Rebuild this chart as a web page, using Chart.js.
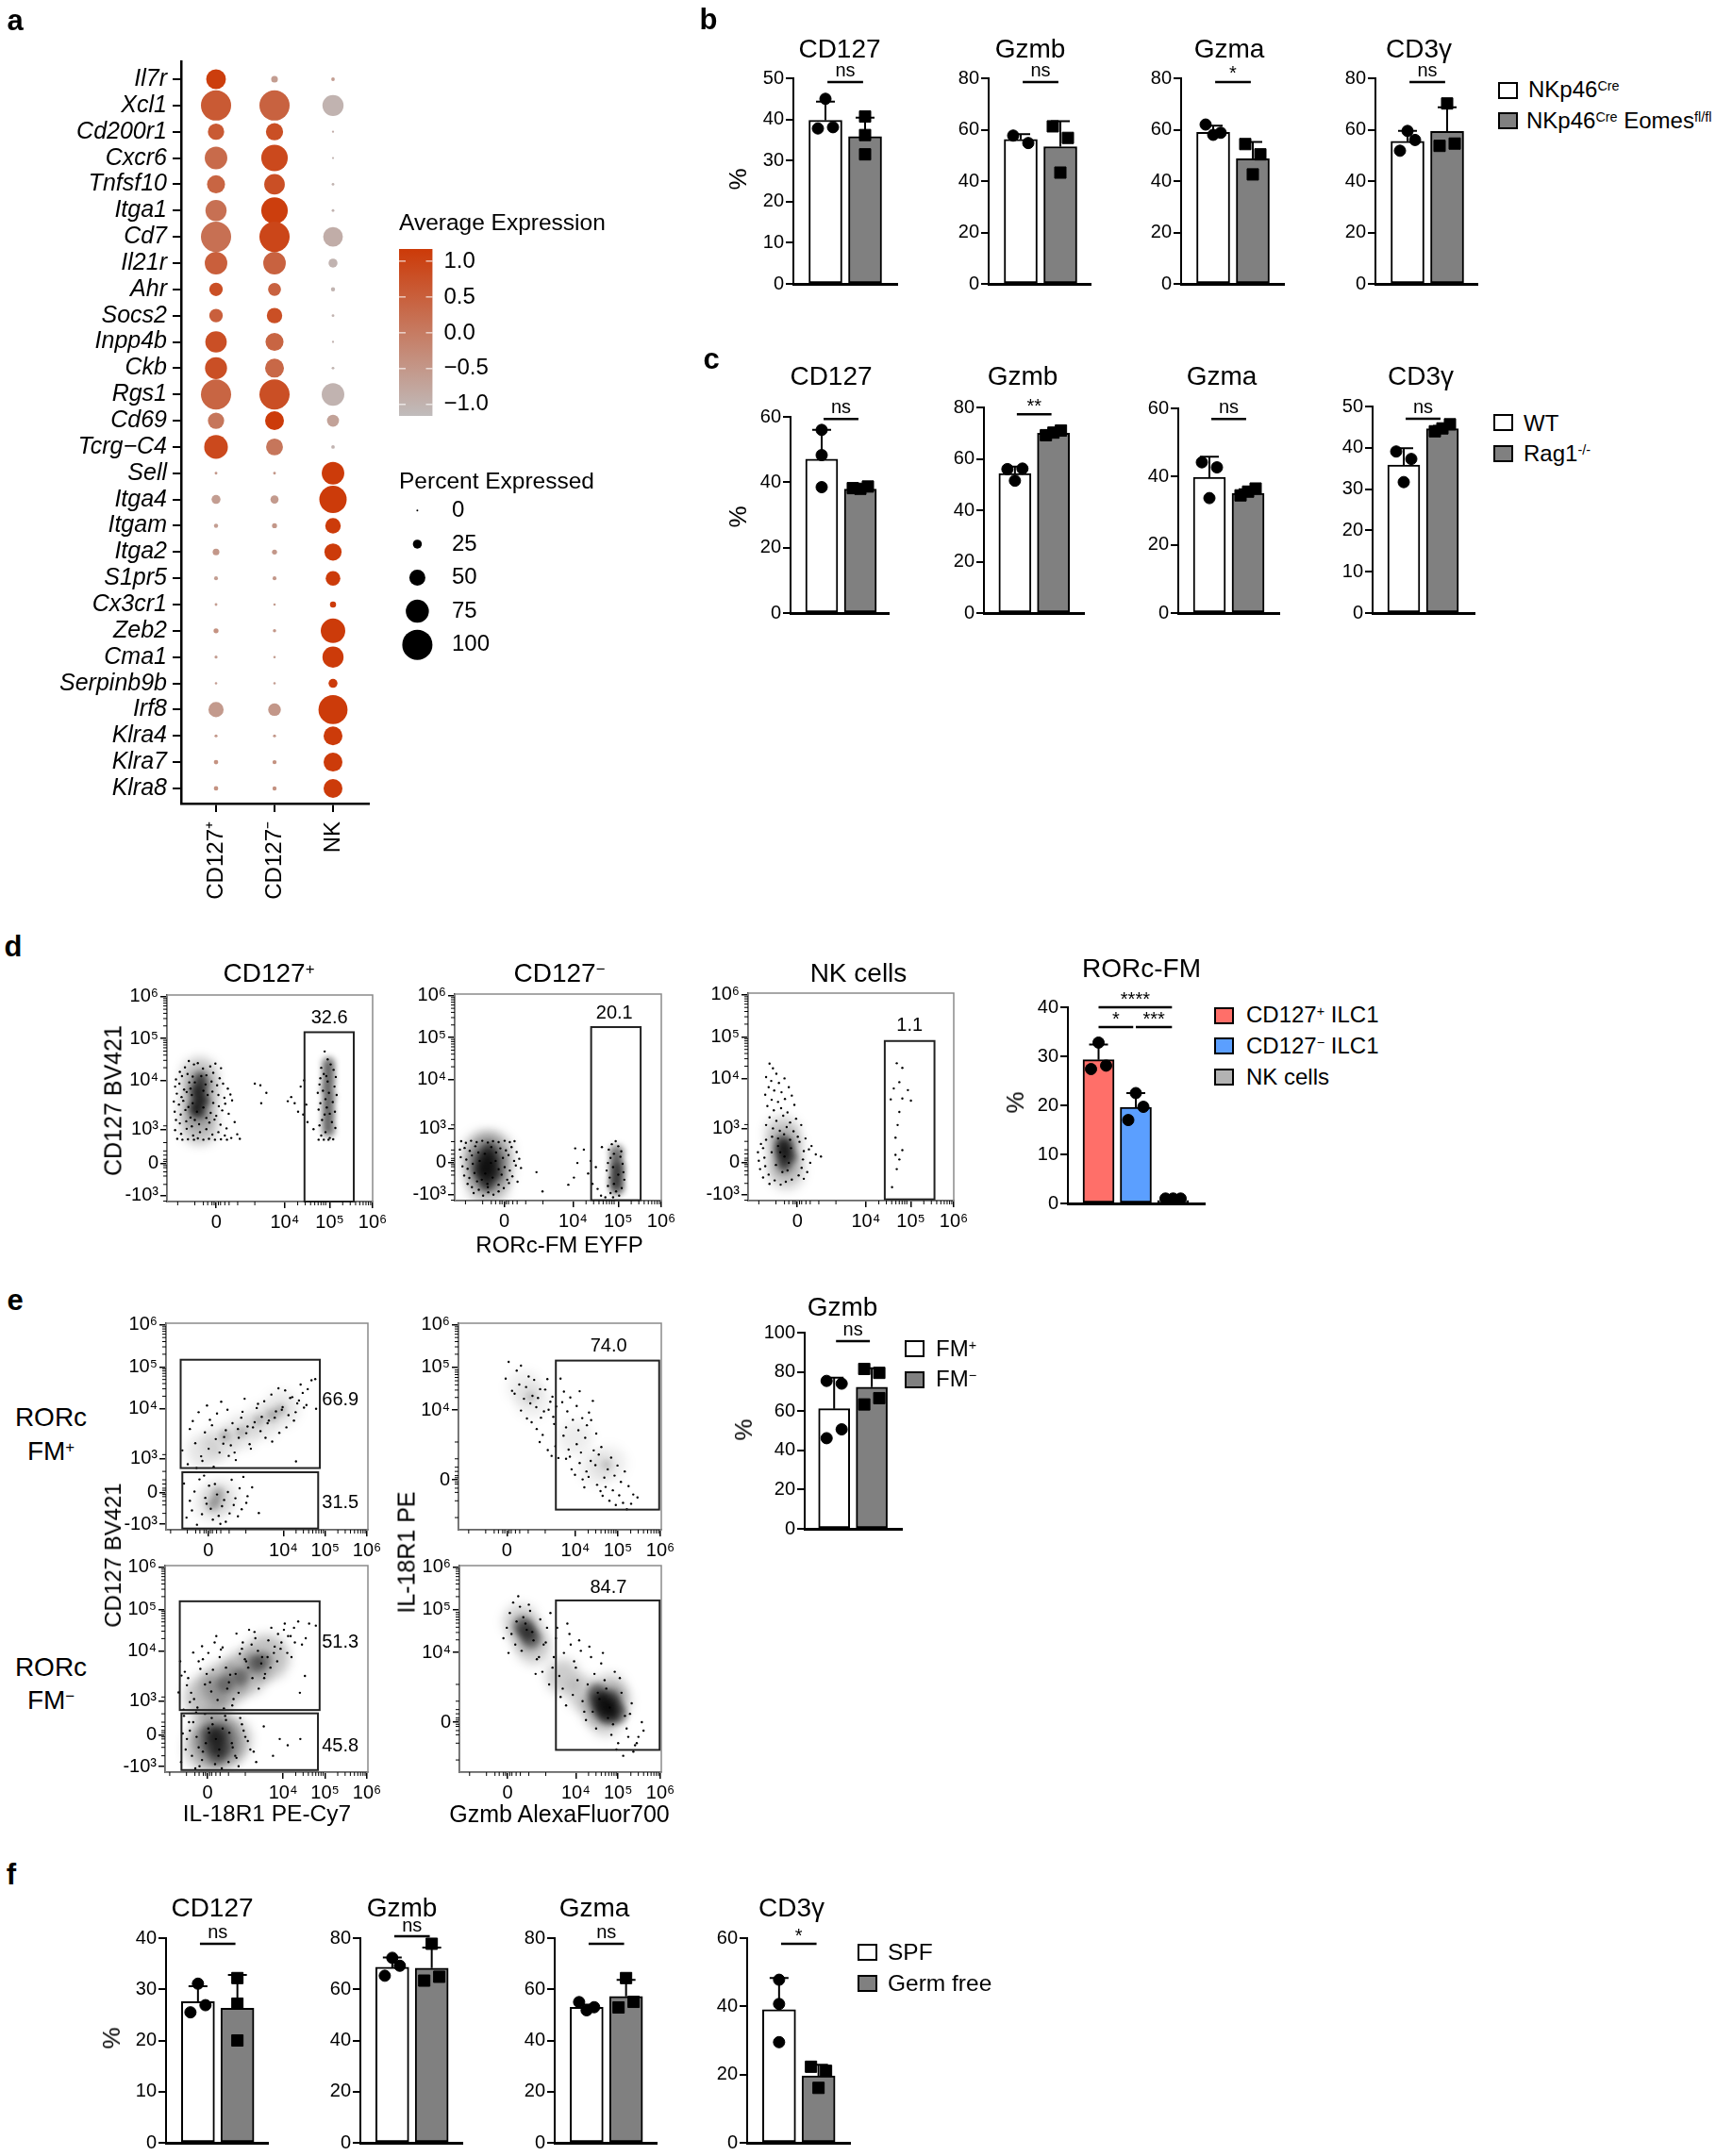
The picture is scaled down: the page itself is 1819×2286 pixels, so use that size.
<!DOCTYPE html>
<html>
<head>
<meta charset="utf-8">
<title>Figure</title>
<script src="https://cdn.jsdelivr.net/npm/chart.js@4"></script>
<style>
  html, body { margin: 0; background: #fff; }
  #page { position: relative; width: 1819px; height: 2286px; overflow: hidden; font-family: "Liberation Sans", Arial, sans-serif; color: #000; }
  canvas { position: absolute; }
  .lab { position: absolute; white-space: nowrap; line-height: 1; }
  .lab sup { font-size: 60%; vertical-align: baseline; position: relative; top: -0.5em; line-height: 0; }
  .sw { position: absolute; box-sizing: border-box; border: 2px solid #000; }
</style>
</head>
<body>
<div id="page"></div>
<script>
// panel a
const genes = ['Il7r', 'Xcl1', 'Cd200r1', 'Cxcr6', 'Tnfsf10', 'Itga1', 'Cd7', 'Il21r', 'Ahr', 'Socs2', 'Inpp4b', 'Ckb', 'Rgs1', 'Cd69', 'Tcrg\u2212C4', 'Sell', 'Itga4', 'Itgam', 'Itga2', 'S1pr5', 'Cx3cr1', 'Zeb2', 'Cma1', 'Serpinb9b', 'Irf8', 'Klra4', 'Klra7', 'Klra8'];
const dotGroups = ['CD127\u207A', 'CD127\u207B', 'NK'];
const pctCD127p = [63, 100, 51, 73, 57, 68, 100, 73, 41, 41, 69, 71, 100, 51, 77, 3, 25, 8, 17, 7, 3, 11, 4, 2, 47, 4, 9, 9];
const pctCD127m = [17, 100, 54, 87, 66, 87, 100, 73, 39, 48, 57, 60, 100, 60, 53, 3, 22, 11, 11, 7, 2, 5, 2, 2, 38, 4, 8, 8];
const pctNK = [6, 68, 1, 1, 3, 3, 63, 25, 8, 3, 1, 3, 73, 36, 6, 73, 90, 48, 54, 45, 15, 80, 68, 25, 96, 60, 60, 60];
const avgCD127p = [1.1, 0.6, 0.6, 0.3, 0.4, 0.2, 0.2, 0.5, 0.8, 0.5, 0.8, 0.8, 0.4, 0.1, 0.9, -0.5, -0.6, -0.6, -0.5, -0.6, -0.6, -0.4, -0.6, -0.6, -0.55, -0.5, -0.4, -0.4];
const avgCD127m = [-0.6, 0.45, 0.8, 0.9, 0.8, 1.1, 0.95, 0.45, 0.45, 0.8, 0.4, 0.35, 0.8, 1.15, 0.1, -0.5, -0.55, -0.5, -0.5, -0.5, -0.6, -0.5, -0.6, -0.6, -0.5, -0.5, -0.4, -0.4];
const avgNK = [-0.6, -1, -0.9, -1, -1, -1, -0.9, -1, -1, -1, -1, -1, -1, -0.7, -1, 1.15, 1.15, 1.15, 1.15, 1.15, 1.15, 1.15, 1.15, 1.15, 1.15, 1.15, 1.15, 1.15];
const expTicks = [1, 0.5, 0, -0.5, -1];
const expLabels = ['1.0', '0.5', '0.0', '\u22120.5', '\u22121.0'];
const pctLegend = [0, 25, 50, 75, 100];

// panel b
const bMax = [50, 80, 80, 80];
const bStep = [10, 20, 20, 20];
const bMeans = [[39.8, 35.8], [56.2, 53.4], [59, 48.7], [55.5, 59.3]];
const bTops = [[44.3, 40.4], [58.3, 63.3], [61.6, 55.2], [59.5, 68.7]];
const bPoints = [
  [[45, 37.8, 38.1], [40.7, 36.2, 31.5]],
  [[57.7, 54.8], [43.3, 61.3, 56.8]],
  [[58, 58.8, 62], [42.6, 54.4, 50.4]],
  [[59.5, 56, 51.8], [70.2, 53.7, 54.6]]
];
const bSig = ['ns', 'ns', '*', 'ns'];

// panel c
const cMax = [60, 80, 60, 50];
const cStep = [20, 20, 20, 10];
const cMeans = [[47.1, 37.9], [54.3, 70], [39.8, 35.1], [35.8, 44.6]];
const cTops = [[56, 39], [57, 71], [45.8, 36.3], [39.9, 45.3]];
const cPoints = [
  [[56, 48.3, 38.5], [38, 38.7, 38.2]],
  [[51.5, 56.2, 56], [70.2, 71, 69.2]],
  [[33.7, 44.2, 42.7], [35.6, 36.5, 34.5]],
  [[31.7, 39.1, 37.3], [44.7, 45.7, 44]]
];
const cSig = ['ns', '**', 'ns', 'ns'];

// panel d bars
const dMeans = [29.3, 19.6, 0.6];
const dTops = [32.4, 22.5, 1];
const dPoints = [[32.8, 27.4, 28.1], [22.5, 17, 19.7], [1, 1, 1]];

// panel e bars
const eMeans = [61.2, 72.2];
const eTops = [77, 81.9];
const ePoints = [[75.4, 74, 46.2, 50.7], [81.5, 79.5, 63.4, 66.6]];

// panel f
const fMax = [40, 80, 80, 60];
const fStep = [10, 20, 20, 20];
const fMeans = [[27.6, 26.3], [68.6, 68.3], [53, 57.2], [39, 19.6]];
const fTops = [[30.6, 32.8], [72.4, 76.3], [54, 63.7], [48.3, 22.9]];
const fPoints = [
  [[31.1, 25.5, 26.9], [32.2, 27.2, 20]],
  [[72.3, 65.3, 69.2], [77.8, 63.4, 64.9]],
  [[51.8, 53, 55], [64.4, 52.9, 55.1]],
  [[47.8, 40.7, 29.5], [22.3, 21.1, 16.1]]
];
const fSig = ['ns', 'ns', 'ns', '*'];

// flow plots, display units x100 as x,y pairs
const d1Cells = [150,420,162,431,171,446,183,438,192,441,204,428,221,433,233,440,246,429,141,402,155,410,168,415,180,409,212,412,228,418,243,405,139,385,149,392,160,378,172,395,224,397,237,388,251,392,262,380,143,368,154,360,166,372,226,373,240,365,254,358,268,366,136,349,148,342,158,351,170,336,228,346,241,338,256,344,272,352,138,325,152,318,163,329,175,311,222,322,235,315,249,328,264,320,141,305,150,297,165,302,178,290,219,299,231,306,245,294,259,285,278,300,139,281,153,272,166,284,181,268,197,276,212,283,226,270,240,276,255,268,270,262,284,271,290,260,144,260,156,258,169,259,183,258,192,261,205,258,218,260,232,258,246,259,260,258,175,380,185,395,200,410,210,390,215,365,180,345,190,325,205,335,212,310,195,295,185,305,178,365,205,375,488,469,495,450,502,438,480,430,509,425,486,415,478,405,514,408,495,397,476,390,511,385,484,375,472,370,516,365,490,355,478,345,507,348,474,330,512,325,488,318,482,305,505,300,476,292,513,286,490,276,480,268,500,262,474,258,486,258,497,258,508,259,493,335,500,320,498,370,492,410,325,392,338,388,352,370,340,345,402,350,410,360,418,345,426,325,438,318,432,385,440,400,445,342,448,300,462,283];
const d1Wide = [196,290,192,330,198,370,196,410];
const d1Core = [196,363,190,345,200,385,188,375,205,350,195,325,198,405,185,330,497,280,497,400,495,380,498,360,496,340,497,320,496,300,497,420,497,440];
const d2Cells = [135,252,146,248,158,253,171,250,184,253,197,249,209,252,222,250,236,253,248,250,259,252,132,232,143,236,155,229,168,240,226,235,239,230,252,238,264,226,134,214,147,208,160,218,232,212,245,219,258,205,270,210,138,192,150,186,162,198,236,190,248,182,262,194,274,188,142,170,154,164,166,176,229,172,242,160,254,168,266,155,150,150,160,142,172,156,222,148,234,140,246,152,164,128,176,136,186,122,198,130,210,124,222,132,178,205,190,222,205,238,215,205,222,185,183,160,196,150,208,165,191,175,204,200,175,225,216,225,197,142,494,252,485,245,500,240,478,232,507,228,490,222,482,212,505,215,476,200,510,198,488,190,473,182,512,178,500,172,480,165,514,160,490,150,476,145,508,140,495,132,482,128,502,122,488,118,470,118,400,235,405,200,397,165,384,148,420,232,436,205,430,175,440,150,452,138,460,122,448,190,462,238,324,132,310,178];
const d2Wide = [188,225,206,225,188,188,206,185,197,150];
const d2Core = [197,189,190,170,205,205,195,150,188,210,200,230,180,185,210,175,497,170,495,155,498,185,496,200,497,140,496,225];
const d3Cells = [170,436,178,425,186,412,162,404,174,395,192,390,205,401,168,380,181,372,198,368,215,380,160,362,175,350,190,345,206,352,222,360,165,335,180,325,197,330,212,320,228,338,170,308,186,300,202,312,218,296,232,305,162,290,178,282,194,276,210,285,226,275,244,290,176,262,190,258,204,268,218,255,236,262,150,245,162,255,240,250,254,258,268,240,143,225,155,235,250,228,262,232,278,220,290,215,145,205,158,212,248,208,265,200,148,185,160,192,245,188,258,178,155,165,168,172,238,170,250,162,170,150,182,158,196,148,208,155,222,160,175,225,190,240,205,215,215,200,185,195,200,178,212,182,220,235,195,225,467,437,480,426,473,392,493,373,460,377,453,351,480,353,500,348,473,321,469,290,464,260,480,230,464,219,473,208,467,185,456,142];
const d3Wide = [207,240,205,205,200,270,210,178];
const d3Core = [207,227,200,212,212,240,205,195,195,232,218,215,200,250];
const e1Cells = [158,301,176,352,171,268,189,318,183,371,203,287,192,259,212,344,197,392,221,305,206,276,229,361,238,328,217,408,247,296,224,374,256,317,233,262,262,349,241,389,269,288,251,417,278,366,258,333,286,278,266,398,291,352,274,313,299,379,283,296,307,424,314,358,293,331,322,305,302,393,331,368,311,342,339,412,319,316,348,381,327,356,357,331,336,402,365,372,345,347,373,322,354,418,382,394,362,366,390,343,371,434,398,404,379,379,407,356,388,449,416,426,396,398,425,372,404,444,433,413,412,385,441,458,421,428,449,403,429,392,458,447,437,420,467,468,446,438,476,471,455,409,430,275,478,400,162,222,176,181,168,141,187,203,181,158,199,232,193,124,213,188,205,149,222,217,216,174,231,136,210,241,241,196,226,162,249,126,236,221,258,183,245,145,267,202,253,168,276,231,262,131,285,187,271,151,295,211,281,171,304,238,291,144,314,192,300,161,325,213,311,176,341,152];
const e1Wide = [210,300,250,320,300,345,350,370,395,400,230,175,250,190];
const e1Core = [393,398,372,385,342,373,300,345,259,335,239,182,230,170,245,200];
const e2Cells = [236,472,251,443,243,512,262,491,268,458,257,436,279,424,272,503,290,477,284,452,299,431,294,413,308,404,303,469,317,447,312,426,326,394,319,379,334,471,329,446,341,417,337,398,350,364,346,429,355,406,348,381,272,396,286,377,297,368,309,352,323,338,316,321,335,302,344,288,353,311,360,283,365,472,373,441,369,416,381,394,388,427,394,374,378,356,403,407,410,442,416,378,407,349,423,331,432,391,427,361,441,419,449,341,437,373,461,309,372,336,384,303,378,281,391,256,387,286,399,243,403,316,410,271,417,232,413,296,426,251,421,213,436,276,431,238,443,301,451,219,447,266,459,204,455,291,468,236,464,193,476,256,471,214,484,284,480,181,492,241,488,206,499,265,495,171,507,226,503,194,516,251,512,176,525,216,521,161,536,196,531,174,546,189];
const e2Wide = [300,420,280,450,450,260,480,270,400,330];
const e2Core = [295,428,474,267];
const e3Cells = [151,302,158,342,163,261,155,376,171,319,178,279,166,351,186,397,181,301,193,254,174,336,199,376,207,412,188,286,214,321,203,358,222,396,196,266,229,304,218,346,237,421,209,381,244,284,226,326,252,404,233,356,259,264,241,436,267,311,249,386,274,344,256,409,282,286,264,361,289,442,271,326,297,394,279,271,304,421,287,346,312,376,294,301,319,451,302,406,327,336,309,381,334,431,317,361,342,311,325,416,350,386,332,446,357,346,340,401,365,426,348,371,372,456,355,336,380,411,363,386,388,441,370,361,396,421,378,396,404,466,386,376,412,436,394,406,420,386,402,451,428,421,410,396,436,471,418,436,445,416,426,456,454,431,462,466,478,461,440,301,452,341,161,204,168,166,157,136,176,231,171,191,183,151,164,246,191,121,178,211,199,171,186,231,207,141,194,196,214,251,201,126,222,216,209,161,230,241,216,181,238,131,224,206,246,151,232,226,254,121,240,191,262,246,248,166,270,136,256,216,278,181,264,236,286,151,272,206,294,126,280,171,302,226,289,146,310,196,298,241,322,166,306,211,336,136,316,186,354,221,330,161,376,151,392,191,411,176,441,191];
const e3Wide = [220,290,260,320,310,350,360,385,220,170,250,170,235,205,270,190];
const e3Core = [354,379,334,370,300,340,262,322,241,193,232,176,250,205,226,208,255,170,243,150];
const e4Cells = [229,431,244,491,237,456,252,516,241,396,260,471,248,441,268,506,257,416,276,481,264,531,284,451,272,401,292,496,281,466,300,426,289,511,308,381,297,446,316,476,305,346,324,416,313,386,332,456,321,351,340,491,329,421,348,386,337,321,356,456,345,361,364,291,353,431,372,396,361,341,380,466,369,311,388,416,377,271,396,376,385,441,404,331,393,296,412,401,400,361,420,256,408,426,428,321,416,281,436,386,424,236,444,346,432,411,452,301,440,256,460,371,448,216,468,331,456,286,476,241,464,396,484,201,472,311,492,351,480,266,500,181,488,226,508,301,496,166,516,246,504,336,524,196,512,151,532,276,520,216,540,176,528,251,548,196,536,161,556,231,544,181,560,211];
const e4Wide = [285,440,300,410,270,470,370,340,420,300,470,275,450,265,490,280,470,240,480,305];
const e4Core = [285,447,275,460,295,430,472,277,462,265,482,285,470,255,490,265,455,280,480,245,450,300,500,250];

// flow axis ticks, in the same display units
const flowYTicks = [6, 5, 4, 2.82, 2.01, 1.25];
const flowYLabels = ['10\u2076', '10\u2075', '10\u2074', '10\u00B3', '0', '-10\u00B3'];
const dXTicks = [2.35, 3.95, 5, 6];
const eXTicks = [2.2, 4, 5, 6];
const e2XTicks = [2.39, 4, 5, 6];
const flowXLabels = ['0', '10\u2074', '10\u2075', '10\u2076'];
const e2YTicks = [6, 5, 3.97, 2.31];
const e2YLabels = ['10\u2076', '10\u2075', '10\u2074', '0'];

const page = document.getElementById('page');
const FONT = '"Liberation Sans", Arial, sans-serif';
Chart.defaults.font.family = FONT;
Chart.defaults.color = '#000';
Chart.defaults.animation = false;
Chart.defaults.responsive = false;
Chart.defaults.plugins.legend.display = false;
Chart.defaults.plugins.tooltip.enabled = false;

function label(html, x, y, size, opt) {
    opt = opt || {};
    const el = document.createElement('div');
    el.className = 'lab';
    el.innerHTML = html;
    el.style.left = x + 'px';
    el.style.top = y + 'px';
    el.style.fontSize = size + 'px';
    if (opt.bold) el.style.fontWeight = 'bold';
    const tx = opt.left ? '0' : '-50%';
    el.style.transform = 'translate(' + tx + ',-50%)' + (opt.rot ? ' rotate(' + opt.rot + 'deg)' : '');
    page.appendChild(el);
}

function swatch(x, y, w, h, color) {
    const el = document.createElement('div');
    el.className = 'sw';
    el.style.cssText = 'left:' + x + 'px;top:' + y + 'px;width:' + w + 'px;height:' + h + 'px;background:' + color;
    page.appendChild(el);
}

function addCanvas(left, top, w, h) {
    const c = document.createElement('canvas');
    c.width = w;
    c.height = h;
    c.style.left = left + 'px';
    c.style.top = top + 'px';
    page.appendChild(c);
    return c;
}

function avgColor(v) {
    const t = Math.min(1, Math.max(0, (v + 1.16) / 2.33));
    const lo = [192, 188, 188], hi = [204, 58, 8];
    return 'rgb(' + lo.map((a, i) => Math.round(a + (hi[i] - a) * t)).join(',') + ')';
}

function pctRadius(p) {
    return 1 + 0.15 * p;
}

// spread points that would overlap into left/centre/right columns
function swarm(vals, pxPerUnit) {
    const slots = [];
    const near = (i, j) => Math.abs(vals[i] - vals[j]) * pxPerUnit < 15;
    vals.forEach((v, i) => {
        const hit = s => slots.some((t, j) => t === s && near(i, j));
        slots[i] = !hit(0) ? 0 : !hit(1) ? 1 : -1;
    });
    vals.forEach((v, i) => {
        if (slots[i] !== 1) return;
        const c = vals.map((w, j) => j).filter(j => slots[j] === 0 && near(i, j));
        if (!c.length) return;
        const j = c.sort((a, b) => vals[a] - vals[b])[0];
        if (!slots.some((t, k) => t === -1 && near(k, j))) slots[j] = -1;
    });
    return slots;
}

function barChart(p) {
    const gutter = 56, headroom = 60, padRight = 12;
    const left = p.axis - gutter, top = p.top - headroom;
    const canvas = addCanvas(left, top, p.right - left + padRight, p.bottom - top + 14);
    const xMin = 1 - p.off / p.gap;
    const xMax = xMin + (p.right - p.axis) / p.gap;
    const pxPerUnit = (p.bottom - p.top) / p.max;
    const datasets = [{
        type: 'bar',
        data: p.means.map((m, i) => ({ x: i + 1, y: m })),
        backgroundColor: p.colors,
        borderColor: '#000',
        borderWidth: 2,
        borderSkipped: false,
        barThickness: p.barW,
        order: 2
    }];
    p.points.forEach((vals, i) => {
        const slots = swarm(vals, pxPerUnit);
        datasets.push({
            type: 'scatter',
            data: vals.map((v, k) => ({ x: i + 1 + slots[k] * 8 / p.gap, y: v })),
            backgroundColor: '#000',
            borderColor: '#000',
            pointRadius: p.squares && i === 1 ? 8.5 : 6,
            pointStyle: p.squares && i === 1 ? 'rect' : 'circle',
            clip: false,
            order: 1
        });
    });
    const extras = {
        id: 'extras',
        afterDatasetsDraw(chart) {
            const c = chart.ctx, xs = chart.scales.x, ys = chart.scales.y;
            c.save();
            c.strokeStyle = '#000';
            c.lineWidth = 2;
            p.tops.forEach((t, i) => {
                const x = xs.getPixelForValue(i + 1);
                const y0 = ys.getPixelForValue(p.means[i]), y1 = ys.getPixelForValue(t);
                c.beginPath();
                c.moveTo(x, y0);
                c.lineTo(x, y1);
                c.moveTo(x - 10, y1);
                c.lineTo(x + 10, y1);
                c.stroke();
            });
            c.fillStyle = '#000';
            c.textAlign = 'center';
            c.textBaseline = 'middle';
            (p.sig || []).forEach(s => {
                const a = xs.getPixelForValue(s.from), b = xs.getPixelForValue(s.to);
                c.lineWidth = 2.5;
                c.beginPath();
                c.moveTo(a, s.y - top);
                c.lineTo(b, s.y - top);
                c.stroke();
                c.font = '20px ' + FONT;
                c.fillText(s.text, (a + b) / 2, s.textY - top);
            });
            c.restore();
        }
    };
    new Chart(canvas, {
        type: 'bar',
        data: { datasets: datasets },
        plugins: [extras],
        options: {
            layout: { padding: { top: headroom, bottom: 14, left: 0, right: padRight } },
            scales: {
                x: {
                    type: 'linear', offset: false, min: xMin, max: xMax,
                    grid: { display: false, offset: false },
                    ticks: { display: false },
                    border: { color: '#000', width: 3 },
                    afterFit(s) { s.height = 0; }
                },
                y: {
                    min: 0, max: p.max,
                    ticks: { stepSize: p.step, font: { size: 20 }, color: '#000', padding: 2 },
                    grid: { drawOnChartArea: false, color: '#000', tickLength: 8, lineWidth: 2 },
                    border: { color: '#000', width: 2 },
                    afterFit(s) { s.width = gutter; }
                }
            }
        }
    });
}

function pairs(flat) {
    const out = [];
    for (let i = 0; i < flat.length; i += 2) out.push({ x: flat[i] / 100, y: flat[i + 1] / 100 });
    return out;
}

function flowChart(p) {
    const gutter = 62, padTop = 30, padRight = 30, foot = 36;
    const w = p.right - p.left, h = p.bottom - p.top;
    const canvas = addCanvas(p.left - gutter, p.top - padTop, gutter + w + padRight, padTop + h + foot);
    const minorAround = [-0.9, -0.5, -0.3, -0.2, -0.1, -0.05, 0.05, 0.1, 0.2, 0.3, 0.5, 0.9];
    const decades = [2, 3, 4, 5, 6, 7, 8, 9].map(k => Math.log10(k));
    const blur = [6, 3];
    const frame = {
        id: 'frame',
        beforeDatasetsDraw(chart) {
            const a = chart.chartArea, c = chart.ctx;
            c.save();
            c.strokeStyle = '#8a8a8a';
            c.lineWidth = 1.5;
            c.strokeRect(a.left, a.top, a.right - a.left, a.bottom - a.top);
            c.restore();
        },
        // soften the density layers so they read as clouds, not discs
        beforeDatasetDraw(chart, args) {
            if (args.index < blur.length) chart.ctx.filter = 'blur(' + blur[args.index] + 'px)';
        },
        afterDatasetDraw(chart) {
            chart.ctx.filter = 'none';
        },
        afterDatasetsDraw(chart) {
            const c = chart.ctx, xs = chart.scales.x, ys = chart.scales.y, a = chart.chartArea;
            c.save();
            c.strokeStyle = '#222';
            c.fillStyle = '#000';
            c.lineWidth = 2;
            p.gates.forEach(g => {
                const x0 = xs.getPixelForValue(g.x0), x1 = xs.getPixelForValue(g.x1);
                const y0 = ys.getPixelForValue(g.y0), y1 = ys.getPixelForValue(g.y1);
                c.strokeRect(x0, y1, x1 - x0, y0 - y1);
                c.font = '20px ' + FONT;
                c.textAlign = 'center';
                c.textBaseline = 'middle';
                c.fillText(g.text, xs.getPixelForValue(g.lx), ys.getPixelForValue(g.ly));
            });
            c.lineWidth = 1;
            c.strokeStyle = '#000';
            const xMinor = [];
            minorAround.forEach(d => xMinor.push(p.xTicks[0] + d));
            [p.xTicks[1], p.xTicks[2]].forEach(t => decades.forEach(d => xMinor.push(t + d)));
            xMinor.forEach(v => {
                const x = xs.getPixelForValue(v);
                c.beginPath();
                c.moveTo(x, a.bottom);
                c.lineTo(x, a.bottom + 4);
                c.stroke();
            });
            const yMinor = [];
            minorAround.forEach(d => yMinor.push(p.zeroY + d));
            [p.yTicks[2], p.yTicks[1]].forEach(t => decades.forEach(d => yMinor.push(t + d)));
            yMinor.forEach(v => {
                if (v < ys.min || v > ys.max) return;
                const y = ys.getPixelForValue(v);
                c.beginPath();
                c.moveTo(a.left, y);
                c.lineTo(a.left - 4, y);
                c.stroke();
            });
            c.restore();
        }
    };
    new Chart(canvas, {
        type: 'scatter',
        data: {
            datasets: [
                { data: pairs(p.wide), backgroundColor: 'rgba(0,0,0,' + p.wideAlpha + ')', pointRadius: p.wideR, pointBorderWidth: 0, borderWidth: 0 },
                { data: pairs(p.core), backgroundColor: 'rgba(0,0,0,' + p.coreAlpha + ')', pointRadius: p.coreR, pointBorderWidth: 0, borderWidth: 0 },
                { data: pairs(p.cells), backgroundColor: '#000', pointRadius: 1.2, pointBorderWidth: 0, borderWidth: 0 }
            ]
        },
        plugins: [frame],
        options: {
            layout: { padding: { top: padTop, right: padRight, bottom: 0, left: 0 } },
            scales: {
                x: {
                    type: 'linear', min: p.xMin, max: p.xMax,
                    afterBuildTicks(s) { s.ticks = p.xTicks.map(v => ({ value: v })); },
                    ticks: { autoSkip: false, maxRotation: 0, font: { size: 20 }, color: '#000', padding: 3, callback: (v, i) => p.xLabels[i] },
                    grid: { drawOnChartArea: false, color: '#000', tickLength: 7, lineWidth: 1.5 },
                    border: { color: '#000', width: 1.5 },
                    afterFit(s) { s.height = foot; }
                },
                y: {
                    type: 'linear', min: p.yMin, max: p.yMax,
                    afterBuildTicks(s) { s.ticks = p.yTicks.map(v => ({ value: v })); },
                    ticks: { autoSkip: false, font: { size: 20 }, color: '#000', padding: 2, callback: (v, i) => p.yLabels[i] },
                    grid: { drawOnChartArea: false, color: '#000', tickLength: 7, lineWidth: 1.5 },
                    border: { color: '#000', width: 1.5 },
                    afterFit(s) { s.width = gutter; }
                }
            }
        }
    });
}

// --- panel a: dot plot
(function () {
    const left = 192, top = 65, right = 391, bottom = 852, gutter = 180, padTop = 30, padRight = 24, foot = 110;
    const canvas = addCanvas(left - gutter, top - padTop, gutter + (right - left) + padRight, padTop + (bottom - top) + foot);
    const gap = 62, rowH = 27.85;
    const xMin = -37 / gap, xMax = xMin + (right - left) / gap;
    const yMin = -19 / rowH, yMax = yMin + (bottom - top) / rowH;
    const dataset = (pct, avg, col) => ({
        data: genes.map((g, i) => ({ x: col, y: i, p: pct[i], a: avg[i] })),
        pointRadius: ctx => pctRadius(ctx.raw.p),
        backgroundColor: ctx => avgColor(ctx.raw.a),
        pointBorderWidth: 0,
        borderWidth: 0,
        clip: false
    });
    new Chart(canvas, {
        type: 'scatter',
        data: { datasets: [dataset(pctCD127p, avgCD127p, 0), dataset(pctCD127m, avgCD127m, 1), dataset(pctNK, avgNK, 2)] },
        options: {
            layout: { padding: { top: padTop, right: padRight, left: 0, bottom: 0 } },
            scales: {
                x: {
                    type: 'linear', min: xMin, max: xMax,
                    afterBuildTicks(s) { s.ticks = dotGroups.map((g, i) => ({ value: i })); },
                    ticks: { autoSkip: false, minRotation: 90, maxRotation: 90, font: { size: 24 }, color: '#000', padding: 10, callback: (v, i) => dotGroups[i] },
                    grid: { drawOnChartArea: false, color: '#000', tickLength: 9, lineWidth: 2 },
                    border: { color: '#000', width: 2.5 },
                    afterFit(s) { s.height = foot; }
                },
                y: {
                    type: 'linear', reverse: true, min: yMin, max: yMax,
                    afterBuildTicks(s) { s.ticks = genes.map((g, i) => ({ value: i })); },
                    ticks: { autoSkip: false, font: { size: 25, style: 'italic' }, color: '#000', padding: 6, callback: (v, i) => genes[i] },
                    grid: { drawOnChartArea: false, color: '#000', tickLength: 9, lineWidth: 2 },
                    border: { color: '#000', width: 2.5 },
                    afterFit(s) { s.width = gutter; }
                }
            }
        }
    });

    // colour bar
    const barCanvas = addCanvas(423, 264 - 30, 110, 177 + 60);
    const whiteTicks = {
        id: 'whiteTicks',
        afterDatasetsDraw(chart) {
            const c = chart.ctx, ys = chart.scales.y, a = chart.chartArea;
            c.save();
            c.strokeStyle = '#fff';
            c.lineWidth = 1;
            expTicks.forEach(v => {
                const y = ys.getPixelForValue(v);
                c.beginPath();
                c.moveTo(a.left, y);
                c.lineTo(a.left + 7, y);
                c.moveTo(a.right - 7, y);
                c.lineTo(a.right, y);
                c.stroke();
            });
            c.restore();
        }
    };
    new Chart(barCanvas, {
        type: 'bar',
        data: {
            labels: [''],
            datasets: [{
                data: [[-1.16, 1.17]],
                barPercentage: 1,
                categoryPercentage: 1,
                backgroundColor(ctx) {
                    const a = ctx.chart.chartArea;
                    if (!a) return '#ccc';
                    const g = ctx.chart.ctx.createLinearGradient(0, a.bottom, 0, a.top);
                    g.addColorStop(0, avgColor(-1.16));
                    g.addColorStop(1, avgColor(1.17));
                    return g;
                }
            }]
        },
        plugins: [whiteTicks],
        options: {
            layout: { padding: { top: 30, bottom: 30, left: 0, right: 0 } },
            scales: {
                x: { display: false },
                y: {
                    position: 'right', min: -1.16, max: 1.17,
                    afterBuildTicks(s) { s.ticks = expTicks.slice().reverse().map(v => ({ value: v })); },
                    ticks: { font: { size: 24 }, color: '#000', padding: 12, callback: (v, i) => expLabels[expTicks.length - 1 - i] },
                    grid: { display: false, drawTicks: false },
                    border: { display: false },
                    afterFit(s) { s.width = 74.5; }
                }
            }
        }
    });

    // size legend
    const sizeRow = 35.75, sizeTop = 541 - 0.6 * sizeRow;
    const sizeCanvas = addCanvas(393, sizeTop - 30, 160, 5.2 * sizeRow + 60);
    new Chart(sizeCanvas, {
        type: 'scatter',
        data: {
            datasets: [{
                data: pctLegend.map((p, i) => ({ x: 0, y: i, p: p })),
                pointRadius: ctx => pctRadius(ctx.raw.p),
                backgroundColor: '#000',
                pointBorderWidth: 0,
                clip: false
            }]
        },
        options: {
            layout: { padding: { top: 30, bottom: 30, left: 30, right: 0 } },
            scales: {
                x: { display: false, type: 'linear', min: -19.4 / 47, max: 27.6 / 47 },
                y: {
                    position: 'right', type: 'linear', reverse: true, min: -0.6, max: 4.6,
                    afterBuildTicks(s) { s.ticks = pctLegend.map((p, i) => ({ value: i })); },
                    ticks: { font: { size: 24 }, color: '#000', padding: 9, callback: (v, i) => String(pctLegend[i]) },
                    grid: { display: false, drawTicks: false },
                    border: { display: false },
                    afterFit(s) { s.width = 83; }
                }
            }
        }
    });
    label('Average Expression', 423, 236, 24.5, { left: true });
    label('Percent Expressed', 423, 510, 24.5, { left: true });
})();

// --- panel b
const GREY = '#808080';
const bAxis = [841, 1048, 1252, 1458];
const bRight = [951, 1156, 1361, 1566];
bAxis.forEach((axis, i) => {
    barChart({
        axis: axis, right: bRight[i], top: 83, bottom: 301.5, max: bMax[i], step: bStep[i], off: 34, gap: 42, barW: 35,
        means: bMeans[i], tops: bTops[i], points: bPoints[i], colors: ['#fff', GREY], squares: true,
        sig: [{ text: bSig[i], from: 1.05, to: 1.95, y: 87, textY: bSig[i] === 'ns' ? 75 : 78 }]
    });
});
['CD127', 'Gzmb', 'Gzma', 'CD3\u03B3'].forEach((t, i) => label(t, [890, 1092, 1303, 1504][i], 52, 28));
label('%', 782, 190, 26, { rot: -90 });
swatch(1588, 87, 21, 18, '#fff');
swatch(1588, 119, 21, 18, GREY);
label('NKp46<sup>Cre</sup>', 1620, 95, 24, { left: true });
label('NKp46<sup>Cre</sup> Eomes<sup>fl/fl</sup>', 1618, 128, 24, { left: true });

// --- panel c
const cAxis = [838, 1042.5, 1249, 1455];
const cRight = [942, 1149, 1356, 1563];
const cTopY = [441.7, 431.7, 432.7, 431];
const cSigY = [444, 439, 444, 444];
cAxis.forEach((axis, i) => {
    barChart({
        axis: axis, right: cRight[i], top: cTopY[i], bottom: 650, max: cMax[i], step: cStep[i], off: 33, gap: 41, barW: 34,
        means: cMeans[i], tops: cTops[i], points: cPoints[i], colors: ['#fff', GREY], squares: true,
        sig: [{ text: cSig[i], from: 1.05, to: 1.95, y: cSigY[i], textY: cSig[i] === 'ns' ? 432 : 431 }]
    });
});
['CD127', 'Gzmb', 'Gzma', 'CD3\u03B3'].forEach((t, i) => label(t, [881, 1084, 1295, 1506][i], 399, 28));
label('%', 782, 548, 26, { rot: -90 });
swatch(1583, 439, 21, 18, '#fff');
swatch(1583, 472, 21, 18, GREY);
label('WT', 1615, 449, 24, { left: true });
label('Rag1<sup>-/-</sup>', 1615, 481, 24, { left: true });

// --- panel d
const dGates = [
    [{ x0: 4.41, x1: 5.56, y0: 1.1, y1: 5.15, text: '32.6', lx: 4.99, ly: 5.49 }],
    [{ x0: 4.37, x1: 5.52, y0: 1.11, y1: 5.25, text: '20.1', lx: 4.91, ly: 5.57 }],
    [{ x0: 4.39, x1: 5.55, y0: 1.13, y1: 4.9, text: '1.1', lx: 4.97, ly: 5.27 }]
];
[[176.7, 395, 1055, 1274, d1Cells, d1Core, d1Wide, 7, 0.5, 19, 0.25], [482, 701, 1054, 1273, d2Cells, d2Core, d2Wide, 8, 0.5, 22, 0.25], [793, 1011, 1053, 1273, d3Cells, d3Core, d3Wide, 7, 0.5, 18, 0.2]].forEach((f, i) => {
    flowChart({
        left: f[0], right: f[1], top: f[2], bottom: f[3], cells: f[4], core: f[5], wide: f[6], coreR: f[7], coreAlpha: f[8], wideR: f[9], wideAlpha: f[10],
        xMin: 1.2, xMax: 6, yMin: 1.1, yMax: 6.04, xTicks: dXTicks, xLabels: flowXLabels, yTicks: flowYTicks, yLabels: flowYLabels, zeroY: 2.01, gates: dGates[i]
    });
});
label('CD127<sup>+</sup>', 285, 1032, 28);
label('CD127<sup>\u2212</sup>', 593, 1032, 28);
label('NK cells', 910, 1032, 28);
label('CD127 BV421', 120, 1167, 25, { rot: -90 });
label('RORc-FM EYFP', 593, 1320, 24);
barChart({
    axis: 1132, right: 1277, top: 1068, bottom: 1276, max: 40, step: 10, off: 32.5, gap: 39.5, barW: 33,
    means: dMeans, tops: dTops, points: dPoints, colors: ['#FF6F69', '#5B9FFF', '#B3B3B3'], squares: false,
    sig: [
        { text: '****', from: 1, to: 2.97, y: 1068, textY: 1060 },
        { text: '*', from: 1, to: 1.93, y: 1089, textY: 1081 },
        { text: '***', from: 2, to: 2.97, y: 1089, textY: 1081 }
    ]
});
label('RORc-FM', 1210, 1027, 28);
label('%', 1076, 1169, 26, { rot: -90 });
swatch(1287, 1068, 21, 18, '#FF6F69');
swatch(1287, 1100, 21, 18, '#5B9FFF');
swatch(1287, 1133, 21, 18, '#B3B3B3');
label('CD127<sup>+</sup> ILC1', 1321, 1076, 24, { left: true });
label('CD127<sup>\u2212</sup> ILC1', 1321, 1109, 24, { left: true });
label('NK cells', 1321, 1142, 24, { left: true });

// --- panel e
flowChart({
    left: 176.3, right: 391, top: 1402.7, bottom: 1621.7, cells: e1Cells, core: e1Core, wide: e1Wide, coreR: 6, coreAlpha: 0.2, wideR: 18, wideAlpha: 0.1,
    xMin: 1.19, xMax: 6.02, yMin: 1.12, yMax: 6.04, xTicks: eXTicks, xLabels: flowXLabels, yTicks: flowYTicks, yLabels: flowYLabels, zeroY: 2.01,
    gates: [{ x0: 1.54, x1: 4.87, y0: 2.59, y1: 5.17, text: '66.9', lx: 5.36, ly: 4.21 }, { x0: 1.58, x1: 4.83, y0: 1.15, y1: 2.49, text: '31.5', lx: 5.36, ly: 1.76 }]
});
flowChart({
    left: 485.8, right: 701, top: 1402.7, bottom: 1621.7, cells: e2Cells, core: e2Core, wide: e2Wide, coreR: 5, coreAlpha: 0.15, wideR: 18, wideAlpha: 0.07,
    xMin: 1.25, xMax: 6.02, yMin: 1.12, yMax: 6.04, xTicks: e2XTicks, xLabels: flowXLabels, yTicks: e2YTicks, yLabels: e2YLabels, zeroY: 2.31,
    gates: [{ x0: 3.54, x1: 5.97, y0: 1.6, y1: 5.15, text: '74.0', lx: 4.78, ly: 5.48 }]
});
flowChart({
    left: 175.4, right: 391, top: 1659.5, bottom: 1879, cells: e3Cells, core: e3Core, wide: e3Wide, coreR: 9, coreAlpha: 0.3, wideR: 24, wideAlpha: 0.25,
    xMin: 1.19, xMax: 6.02, yMin: 1.12, yMax: 6.04, xTicks: eXTicks, xLabels: flowXLabels, yTicks: flowYTicks, yLabels: flowYLabels, zeroY: 2.01,
    gates: [{ x0: 1.54, x1: 4.87, y0: 2.6, y1: 5.19, text: '51.3', lx: 5.36, ly: 4.2 }, { x0: 1.58, x1: 4.83, y0: 1.17, y1: 2.52, text: '45.8', lx: 5.36, ly: 1.73 }]
});
flowChart({
    left: 486.7, right: 701, top: 1660, bottom: 1879, cells: e4Cells, core: e4Core, wide: e4Wide, coreR: 10, coreAlpha: 0.4, wideR: 18, wideAlpha: 0.2,
    xMin: 1.25, xMax: 6.02, yMin: 1.12, yMax: 6.04, xTicks: e2XTicks, xLabels: flowXLabels, yTicks: e2YTicks, yLabels: e2YLabels, zeroY: 2.31,
    gates: [{ x0: 3.53, x1: 5.98, y0: 1.65, y1: 5.21, text: '84.7', lx: 4.77, ly: 5.51 }]
});
label('RORc', 54, 1503, 28);
label('FM<sup>+</sup>', 54, 1539, 28);
label('RORc', 54, 1768, 28);
label('FM<sup>\u2212</sup>', 54, 1803, 28);
label('CD127 BV421', 120, 1649, 24, { rot: -90 });
label('IL-18R1 PE', 431, 1646, 25, { rot: -90 });
label('IL-18R1 PE-Cy7', 283, 1923, 24.5);
label('Gzmb AlexaFluor700', 593, 1923, 25);
barChart({
    axis: 852.7, right: 956, top: 1413, bottom: 1621, max: 100, step: 20, off: 31.3, gap: 40, barW: 33,
    means: eMeans, tops: eTops, points: ePoints, colors: ['#fff', GREY], squares: true,
    sig: [{ text: 'ns', from: 1.05, to: 1.95, y: 1422, textY: 1410 }]
});
label('Gzmb', 893, 1386, 28);
label('%', 788, 1516, 26, { rot: -90 });
swatch(959, 1421, 21, 18, '#fff');
swatch(959, 1454, 21, 18, GREY);
label('FM<sup>+</sup>', 992, 1430, 24, { left: true });
label('FM<sup>\u2212</sup>', 992, 1462, 24, { left: true });

// --- panel f
const fAxis = [176, 382, 587.5, 791.5];
const fRight = [284.5, 490.5, 696, 901];
const fSigY = [2061, 2053, 2061, 2061];
const fTextY = [2049, 2042, 2049, 2053];
fAxis.forEach((axis, i) => {
    barChart({
        axis: axis, right: fRight[i], top: 2055, bottom: 2272, max: fMax[i], step: fStep[i], off: 34, gap: 42, barW: 35,
        means: fMeans[i], tops: fTops[i], points: fPoints[i], colors: ['#fff', GREY], squares: true,
        sig: [{ text: fSig[i], from: 1.05, to: 1.95, y: fSigY[i], textY: fTextY[i] }]
    });
});
['CD127', 'Gzmb', 'Gzma', 'CD3\u03B3'].forEach((t, i) => label(t, [225, 426, 630, 839][i], 2023, 28));
label('%', 118, 2161, 26, { rot: -90 });
swatch(909, 2061, 21, 18, '#fff');
swatch(909, 2094, 21, 18, GREY);
label('SPF', 941, 2070, 24.5, { left: true });
label('Germ free', 941, 2103, 24.5, { left: true });

// panel letters
[['a', 16, 21], ['b', 751, 20], ['c', 754, 380], ['d', 14, 1003], ['e', 16, 1378], ['f', 12, 1987]].forEach(l => label(l[0], l[1], l[2], 31, { bold: true }));
</script>
</body>
</html>
